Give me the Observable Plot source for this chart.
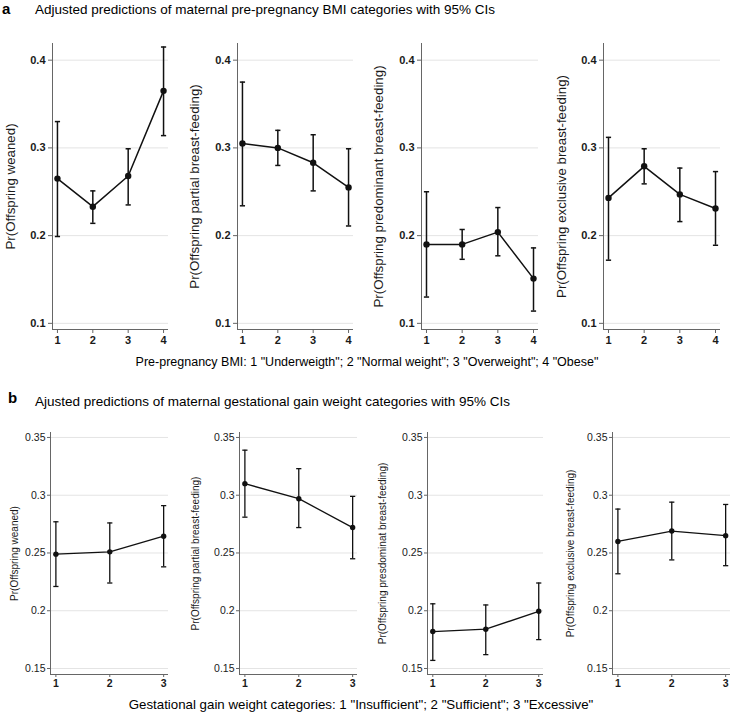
<!DOCTYPE html>
<html>
<head>
<meta charset="utf-8">
<script src="https://cdn.jsdelivr.net/npm/d3@7"></script>
<script src="https://cdn.jsdelivr.net/npm/@observablehq/plot@0.6"></script>
<style>
  html, body { margin: 0; padding: 0; background: #fff; }
  #root { position: relative; width: 732px; height: 714px; overflow: hidden; background: #fff;
          font-family: "Liberation Sans", Arial, sans-serif; color: #111; }
  .abs { position: absolute; white-space: nowrap; }
  .letter { font-weight: bold; font-size: 15px; color: #000; }
  .title { font-size: 13.5px; color: #000; }
  .xtitle { font-size: 12.5px; color: #000; transform: translateX(-50%); }
</style>
</head>
<body>
<div id="root"></div>
<script>
// ---------- Data ----------
const bmiCategories = [1, 2, 3, 4];
const gainCategories = [1, 2, 3];

const yTicksA = [0.1, 0.2, 0.3, 0.4];
const yTicksB = [0.15, 0.2, 0.25, 0.3, 0.35];

// Panel a: pre-pregnancy BMI
const weanedA      = [0.265, 0.233, 0.268, 0.365];
const weanedA_lo   = [0.199, 0.214, 0.235, 0.314];
const weanedA_hi   = [0.330, 0.251, 0.299, 0.415];

const partialA     = [0.305, 0.300, 0.283, 0.255];
const partialA_lo  = [0.234, 0.280, 0.251, 0.211];
const partialA_hi  = [0.375, 0.320, 0.315, 0.299];

const predomA      = [0.190, 0.190, 0.204, 0.151];
const predomA_lo   = [0.130, 0.173, 0.177, 0.114];
const predomA_hi   = [0.250, 0.207, 0.232, 0.186];

const exclA        = [0.243, 0.279, 0.247, 0.231];
const exclA_lo     = [0.172, 0.259, 0.216, 0.189];
const exclA_hi     = [0.312, 0.299, 0.277, 0.273];

// Panel b: gestational weight gain
const weanedB      = [0.249, 0.251, 0.2645];
const weanedB_lo   = [0.221, 0.224, 0.238];
const weanedB_hi   = [0.277, 0.276, 0.291];

const partialB     = [0.310, 0.297, 0.272];
const partialB_lo  = [0.281, 0.272, 0.245];
const partialB_hi  = [0.339, 0.323, 0.299];

const predomB      = [0.182, 0.184, 0.1995];
const predomB_lo   = [0.157, 0.162, 0.175];
const predomB_hi   = [0.206, 0.205, 0.224];

const exclB        = [0.260, 0.269, 0.265];
const exclB_lo     = [0.232, 0.244, 0.239];
const exclB_hi     = [0.288, 0.294, 0.292];

const titleA  = "Adjusted predictions of maternal pre-pregnancy BMI categories with 95% CIs";
const titleB  = "Ajusted predictions of maternal gestational gain weight categories with 95% CIs";
const xTitleA = 'Pre-pregnancy BMI: 1 "Underweigth"; 2 "Normal weight"; 3 "Overweight"; 4 "Obese"';
const xTitleB = 'Gestational gain weight categories: 1 "Insufficient"; 2 "Sufficient"; 3 "Excessive"';

const labelsA = ["Pr(Offspring weaned)", "Pr(Offspring partial breast-feeding)",
                 "Pr(Offspring predominant breast-feeding)", "Pr(Offspring exclusive breast-feeding)"];
const labelsB = ["Pr(Offspring weaned)", "Pr(Offspring partial breast-feeding)",
                 "Pr(Offspring presdominat breast-feeding)", "Pr(Offspring exclusive breast-feeding)"];

// ---------- Helpers ----------
const root = document.getElementById("root");
function addText(cls, text, left, top, extra) {
  const d = document.createElement("div");
  d.className = "abs " + cls;
  d.textContent = text;
  d.style.left = left + "px";
  d.style.top = top + "px";
  if (extra) Object.assign(d.style, extra);
  root.appendChild(d);
}

const capSymbol = {
  draw(ctx, size) {
    const w = Math.sqrt(size / Math.PI);
    ctx.moveTo(-w, 0);
    ctx.lineTo(w, 0);
  }
};

function makeRows(cats, est, lo, hi) {
  return cats.map((c, i) => ({cat: c, est: est[i], lo: lo[i], hi: hi[i]}));
}

function panel({cats, est, lo, hi, label, xDomain, yDomain, yTicks, left, top, width, height,
                marginLeft, marginRight, marginTop, marginBottom, labelOffset, fontSize, labelSize,
                r, sw, tickSize, tickPadding, yTickWeight}) {
  const rows = makeRows(cats, est, lo, hi);
  const chart = Plot.plot({
    width, height, marginLeft, marginRight, marginTop, marginBottom,
    style: {fontFamily: '"Liberation Sans", Arial, sans-serif', fontSize: fontSize + "px", color: "#1a1a1a", background: "white", overflow: "visible"},
    x: {domain: xDomain},
    y: {domain: yDomain},
    marks: [
      Plot.gridY(yTicks, {stroke: "#e4e4e4", strokeOpacity: 1, strokeWidth: 1}),
      Plot.ruleX([xDomain[0]], {stroke: "#666", strokeWidth: 1}),
      Plot.ruleY([yDomain[0]], {stroke: "#666", strokeWidth: 1}),
      Plot.axisY(yTicks, {tickSize, tickPadding, tickFormat: d => String(d), stroke: "#666",
        label: null, fontWeight: yTickWeight}),
      Plot.text([label], {frameAnchor: "left", rotate: -90, dx: -labelOffset, text: d => d,
        fontSize: labelSize, fill: "#1a1a1a", textAnchor: "middle", lineAnchor: "top"}),
      Plot.axisX(cats, {tickSize, tickPadding, tickFormat: d => String(d), stroke: "#666", label: null,
        fontWeight: "bold"}),
      Plot.ruleX(rows, {x: "cat", y1: "lo", y2: "hi", stroke: "#111", strokeWidth: sw}),
      Plot.dot(rows, {x: "cat", y: "lo", symbol: capSymbol, r: 2.6, stroke: "#111", strokeWidth: sw, fill: "none"}),
      Plot.dot(rows, {x: "cat", y: "hi", symbol: capSymbol, r: 2.6, stroke: "#111", strokeWidth: sw, fill: "none"}),
      Plot.line(rows, {x: "cat", y: "est", stroke: "#111", strokeWidth: sw}),
      Plot.dot(rows, {x: "cat", y: "est", r, fill: "#111", stroke: "none"})
    ]
  });
  const wrap = document.createElement("div");
  wrap.className = "abs";
  wrap.style.left = left + "px";
  wrap.style.top = top + "px";
  wrap.appendChild(chart);
  root.appendChild(wrap);
}

// ---------- Panel a ----------
addText("letter", "a", 2, 0);
addText("title", titleA, 35, 2);
const aData = [
  [weanedA, weanedA_lo, weanedA_hi],
  [partialA, partialA_lo, partialA_hi],
  [predomA, predomA_lo, predomA_hi],
  [exclA, exclA_lo, exclA_hi]
];
const aLayout = [
  {left: 0,   width: 172, marginLeft: 52, marginRight: 4, labelOffset: 47},
  {left: 182, width: 175, marginLeft: 55, marginRight: 4, labelOffset: 48},
  {left: 366, width: 176, marginLeft: 55, marginRight: 4, labelOffset: 48},
  {left: 548, width: 176, marginLeft: 55, marginRight: 4, labelOffset: 47}
];
aData.forEach(([est, lo, hi], i) => panel({
  cats: bmiCategories, est, lo, hi, label: labelsA[i],
  xDomain: [0.86, 4.14], yDomain: [0.093, 0.419], yTicks: yTicksA,
  top: 36, height: 315, marginTop: 7, marginBottom: 22,
  fontSize: 11, labelSize: 13.3, r: 3.2, sw: 1.5, tickSize: 4, tickPadding: 3, yTickWeight: "bold",
  ...aLayout[i]
}));
addText("xtitle", xTitleA, 367, 355);

// ---------- Panel b ----------
addText("letter", "b", 8, 389);
addText("title", titleB, 35, 394);
const bData = [
  [weanedB, weanedB_lo, weanedB_hi],
  [partialB, partialB_lo, partialB_hi],
  [predomB, predomB_lo, predomB_hi],
  [exclB, exclB_lo, exclB_hi]
];
const bLayout = [
  {left: 0,   width: 172, marginLeft: 50, marginRight: 4, labelOffset: 40},
  {left: 184, width: 177, marginLeft: 55, marginRight: 4, labelOffset: 48},
  {left: 372, width: 175, marginLeft: 55, marginRight: 4, labelOffset: 49},
  {left: 557, width: 175, marginLeft: 55, marginRight: 2, labelOffset: 46}
];
bData.forEach(([est, lo, hi], i) => panel({
  cats: gainCategories, est, lo, hi, label: labelsB[i],
  xDomain: [0.9, 3.09], yDomain: [0.1448, 0.3543], yTicks: yTicksB,
  top: 425, height: 271, marginTop: 7, marginBottom: 22,
  fontSize: 10.5, labelSize: 10, r: 2.7, sw: 1.3, tickSize: 3, tickPadding: 2, yTickWeight: "normal",
  ...bLayout[i]
}));
addText("xtitle", xTitleB, 361, 697, {fontSize: "13.3px"});
</script>
</body>
</html>
